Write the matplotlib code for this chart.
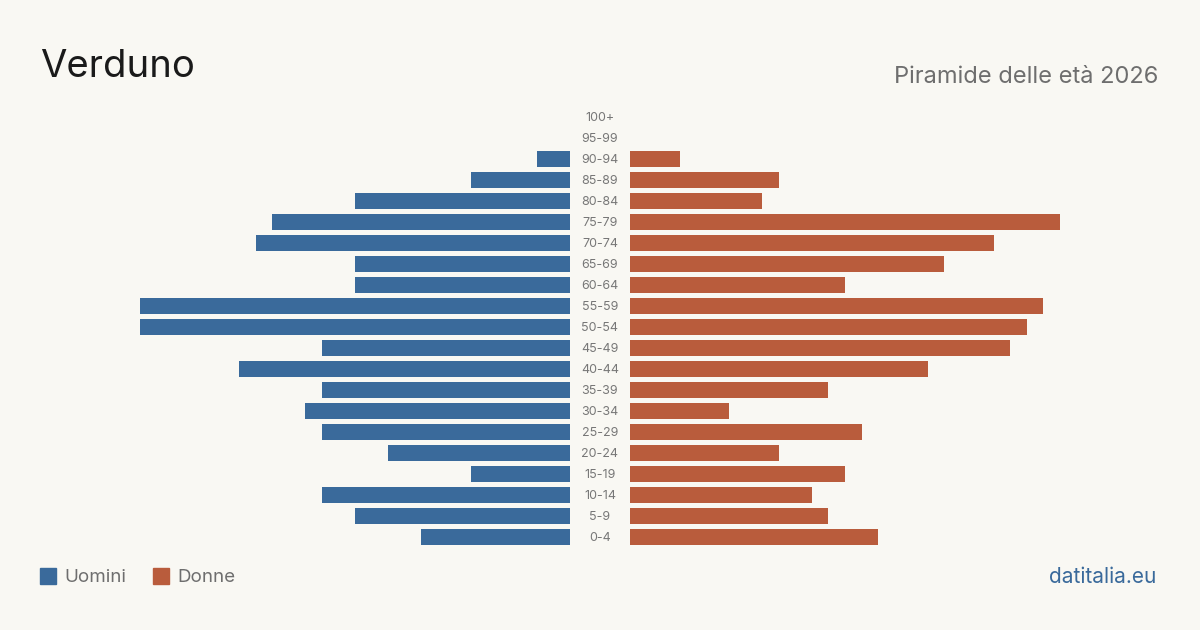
import matplotlib.pyplot as plt

# age groups, top to bottom as drawn
age_groups = ['100+', '95-99', '90-94', '85-89', '80-84', '75-79', '70-74', '65-69',
              '60-64', '55-59', '50-54', '45-49', '40-44', '35-39', '30-34', '25-29',
              '20-24', '15-19', '10-14', '5-9', '0-4']
uomini = [0, 0, 2, 6, 13, 18, 19, 13, 13, 26, 26, 15, 20, 15, 16, 15, 11, 6, 15, 13, 9]
donne = [0, 0, 3, 9, 8, 26, 22, 19, 13, 25, 24, 23, 18, 12, 6, 14, 9, 13, 11, 12, 15]

bg = '#f9f8f3'
blue = '#3a6a9b'
red = '#b95c3c'
W, H = 1200, 630

fig = plt.figure(figsize=(12, 6.3), dpi=100, facecolor=bg)
plt.rcParams['font.family'] = ['Inter', 'DejaVu Sans']

n = len(age_groups)
y = list(range(n))
top, bottom = 106.5, 547.5   # pixel rows of the plot area
vmax = 26

ax_l = fig.add_axes([140 / W, 1 - bottom / H, 430 / W, (bottom - top) / H])
ax_r = fig.add_axes([630 / W, 1 - bottom / H, 430 / W, (bottom - top) / H])

ax_l.barh(y, uomini, height=0.8, color=blue)
ax_r.barh(y, donne, height=0.8, color=red)
ax_l.set_xlim(vmax, 0)
ax_r.set_xlim(0, vmax)

for ax in (ax_l, ax_r):
    ax.set_ylim(n - 0.5, -0.5)
    ax.set_facecolor('none')
    ax.axis('off')

for i, lab in enumerate(age_groups):
    fig.text(600 / W, 1 - (118 + 21 * i) / H, lab, ha='center', va='center',
             fontsize=9, color='#777777')

fig.text(40 / W, 1 - 67 / H, 'Verduno', fontsize=27.5, color='#1a1a1a', va='center')
fig.text(1158 / W, 1 - 77 / H, 'Piramide delle età 2026', fontsize=17,
         color='#6e6e6e', ha='right', va='center')

# legend
fig.patches.append(plt.Rectangle((40 / W, 1 - 584 / H), 16 / W, 16 / H,
                                 transform=fig.transFigure, color=blue))
fig.text(64 / W, 1 - 577 / H, 'Uomini', fontsize=13.5, color='#6e6e6e', va='center')
fig.patches.append(plt.Rectangle((153 / W, 1 - 584 / H), 16 / W, 16 / H,
                                 transform=fig.transFigure, color=red))
fig.text(177 / W, 1 - 577 / H, 'Donne', fontsize=13.5, color='#6e6e6e', va='center')

fig.text(1156 / W, 1 - 577 / H, 'datitalia.eu', fontsize=15, color=blue,
         ha='right', va='center')

fig.savefig('out.png', dpi=100, facecolor=bg)
